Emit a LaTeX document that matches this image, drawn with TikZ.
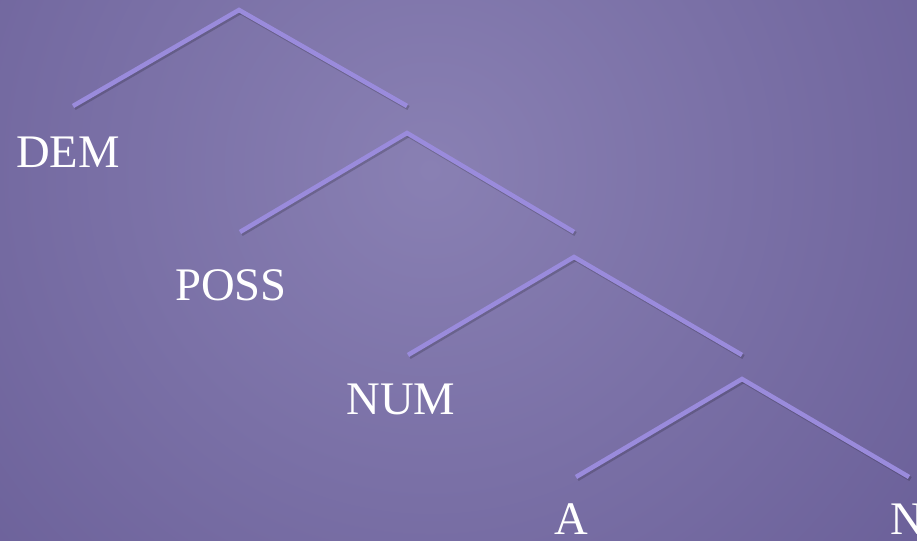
\documentclass[tikz,border=0pt]{standalone}
\usepackage{fontspec}
\setmainfont{Liberation Serif}
\definecolor{bginner}{HTML}{8980B3}
\definecolor{bgouter}{HTML}{574B88}
\definecolor{branch}{HTML}{9A8BDC}
\begin{document}
\begin{tikzpicture}[x=0.75pt,y=-0.75pt,
  branchline/.style={draw=branch,line width=3.4pt},
  shadowline/.style={draw=black,opacity=0.18,line width=3.4pt},
  lbl/.style={anchor=base,text=white,inner sep=0pt,font=\fontsize{35}{42}\selectfont}]
\useasboundingbox (0,0) rectangle (917,540);
\begin{scope}
\clip (0,0) rectangle (917,540);
\shade[inner color=bginner,outer color=bgouter] (430,170) circle (780pt);
\end{scope}
% tree points
\coordinate (p1) at (239,10);
\coordinate (l1) at (73,106);
\coordinate (r1) at (407,106);
\coordinate (p2) at (407,133);
\coordinate (l2) at (240,232);
\coordinate (r2) at (574,232);
\coordinate (p3) at (574,257);
\coordinate (l3) at (408,355);
\coordinate (r3) at (742,355);
\coordinate (p4) at (742,379);
\coordinate (l4) at (576,477);
\coordinate (r4) at (909,477);
% shadows
\foreach \a/\b in {p1/l1,p1/r1,p2/l2,p2/r2,p3/l3,p3/r3,p4/l4,p4/r4}{
  \draw[shadowline] ([shift={(1.5,2)}]\a) -- ([shift={(1.5,2)}]\b);
}
% branches
\draw[branchline] (l1) -- (p1) -- (r1);
\draw[branchline] (l2) -- (p2) -- (r2);
\draw[branchline] (l3) -- (p3) -- (r3);
\draw[branchline] (l4) -- (p4) -- (r4);
% labels
\node[lbl] (dem) at (68,167) {DEM};
\node[lbl] (poss) at (231,300) {POSS};
\node[lbl] (num) at (401,414) {NUM};
\node[lbl] (a) at (571,534) {A};
\node[lbl] (n) at (907,534) {N};
\end{tikzpicture}
\end{document}
